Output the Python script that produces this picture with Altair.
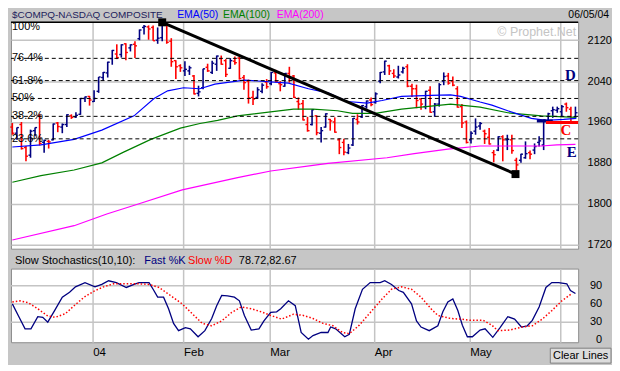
import altair as alt
import pandas as pd

# ---------------- data (trading-day index 0 = 2003-12-05 ... 124 = 2004-06-04)
opens = [1950,1938,1955,1910,1895,1943,1972,1920,1922,1925,1958,1950,1955,1972,1970,1975,2006,2010,
         2000,2020,2047,2056,2084,2093,2092,2113,2105,2112,2123,2145,2146,2145,2120,2125,2150,2118,2080,2070,
         2060,2060,2050,2016,2027,2067,2057,2073,2084,2080,2065,2079,2085,2047,2040,2008,2008,2020,2038,
         2035,2056,2035,2030,2055,2050,2000,1996,1955,1955,1972,1938,1950,1965,1960,1925,1920,1900,1915,1965,1970,1990,2003,
         1998,2040,2058,2070,2055,2048,2058,2068,2030,2025,2005,1990,2022,1980,1995,2040,2050,2040,2025,1990,1960,
         1925,1942,1952,1942,1930,1900,1905,1931,1925,1925,1885,1885,1890,1900,1905,1920,1915,1962,1982,1983,
         1980,1995,1985,1970]
highs = [1958,1949,1960,1913,1945,1949,1976,1925,1925,1957,1960,1957,1975,1975,1979,2007,2010,2011,
         2022,2048,2058,2078,2101,2112,2112,2114,2112,2118,2141,2150,2149,2149,2145,2154,2153,2124,2081,2073,
         2079,2070,2052,2031,2064,2074,2080,2090,2090,2083,2085,2088,2088,2052,2043,2021,2028,2036,2044,
         2058,2062,2040,2056,2068,2052,2008,2003,1970,1985,1973,1950,1977,1966,1969,1928,1927,1917,1968,1975,1993,2002,2008,
         2018,2058,2080,2072,2063,2070,2068,2073,2035,2033,2006,2021,2030,1997,2036,2057,2056,2049,2030,1995,1963,
         1942,1967,1960,1945,1948,1905,1932,1934,1935,1935,1890,1898,1922,1904,1918,1932,1965,1978,1990,1990,
         1993,1998,1990,1990]
lows = [1935,1925,1906,1883,1890,1932,1914,1900,1908,1924,1940,1938,1950,1966,1968,1974,1999,1992,
        1999,2017,2040,2047,2072,2083,2086,2081,2098,2085,2120,2131,2121,2119,2113,2118,2113,2068,2044,2058,
        2050,2052,2014,2010,2024,2058,2054,2060,2072,2048,2064,2072,2043,2023,1996,1993,2005,2016,2025,
        2032,2038,2020,2029,2037,2007,1984,1963,1941,1953,1934,1920,1949,1943,1939,1897,1895,1897,1913,1955,1968,1986,1991,
        1996,2036,2052,2052,2046,2045,2055,2028,2009,1987,1984,1985,1978,1970,1990,2032,2033,2030,1988,1948,1918,
        1918,1935,1945,1917,1916,1881,1903,1883,1905,1898,1865,1880,1888,1887,1897,1912,1905,1958,1968,1978,
        1970,1980,1960,1968]
closes = [1938,1949,1908,1893,1942,1949,1918,1924,1921,1956,1951,1955,1974,1969,1973,2006,2009,2003,
          2006,2048,2057,2077,2100,2086,2111,2096,2111,2109,2140,2147,2142,2119,2124,2153,2116,2078,2068,2066,
          2063,2066,2015,2019,2064,2060,2075,2089,2073,2053,2080,2076,2045,2037,2007,2005,2023,2032,2029,
          2057,2039,2033,2055,2047,2008,1995,1964,1943,1984,1939,1943,1976,1962,1940,1910,1901,1909,1967,1960,1992,2001,1994,
          2015,2057,2079,2060,2050,2052,2065,2030,2025,2002,1995,2020,1979,1995,2033,2049,2036,2032,1989,1958,1920,
          1938,1950,1957,1937,1917,1896,1931,1925,1926,1904,1876,1897,1898,1897,1912,1923,1964,1976,1984,1986,
          1990,1988,1960,1978]

ema50_i = [0, 6.3, 13.6, 19.7, 26.8, 31.2, 34.2, 37.7, 41.3, 44.6, 51.1, 60.8, 65.2, 69.5, 73.8, 78.1, 81.4,
           85.7, 92.2, 96.5, 98.7, 103.0, 105.6, 109.1, 114.3, 117.5, 121.4, 124.2]
ema50_v = [1911, 1915, 1926, 1944, 1972, 2006, 2021, 2027, 2025, 2034, 2042, 2036, 2025, 2017, 2000, 1997, 2002,
           2010, 2012, 2013, 2010, 1999, 1993, 1982, 1967, 1963, 1965, 1967]
ema100_i = [0, 6.3, 13.6, 19.7, 24.5, 30.5, 37.0, 41.3, 45.2, 49.6, 61.9, 66.2, 71.6, 74.9, 79.9, 85.7, 92.2,
            96.5, 103.0, 109.1, 116.5, 124.2]
ema100_v = [1842, 1855, 1866, 1880, 1901, 1926, 1948, 1957, 1963, 1972, 1985, 1985, 1982, 1977, 1977, 1985, 1991,
            1995, 1989, 1978, 1972, 1969]
ema200_i = [0, 13.6, 20.8, 27.9, 37.4, 49.6, 56.9, 66.2, 69.5, 82.5, 88.5, 95.9, 103.0, 116.5, 119.9, 124.0]
ema200_v = [1729, 1757, 1780, 1800, 1827, 1851, 1864, 1875, 1879, 1890, 1898, 1907, 1913, 1913, 1915, 1916]

fib_prices = [2084.5, 2041, 2006, 1971, 1927]
fib_labels = ["76.4%", "61.8%", "50%", "38.2%", "23.6%"]
top_price = 2155
trend_i = [33, 110.8]
trend_v = [2155, 1858]

k_i = [0,1.3,2.8,4.1,5.6,6.7,7.8,9.3,11.0,12.6,13.9,16.0,18.2,19.7,21.2,22.9,25.1,26.8,27.9,30.1,
       31.0,32.0,33.3,34.4,35.5,36.6,38.1,39.2,40.9,42.4,43.9,45.0,46.1,47.4,48.9,50.0,51.1,52.6,54.3,55.4,
       56.9,58.2,59.1,60.8,62.3,63.6,65.2,66.2,68.0,69.5,70.1,71.2,73.2,74.2,75.5,77.1,78.8,81.0,82.0,83.5,
       85.1,86.1,87.9,89.0,90.0,91.8,93.7,94.8,95.9,97.0,98.1,99.1,100.2,101.3,103.0,104.1,105.8,107.4,109.1,110.6,
       112.1,113.4,114.5,116.0,117.5,118.8,120.3,122.1,122.9,124.0]
k_v = [60,41,19,19,39,38,30,49,71,79,88,95,88,92,98,95,87,92,95,95,
       84,71,71,52,28,16,21,19,6,16,36,57,74,73,71,65,41,17,19,32,
       46,47,52,65,57,13,2,8,13,13,22,19,6,10,52,84,95,95,98,92,
       82,79,60,32,22,16,24,47,63,68,49,25,6,6,17,19,5,21,39,35,
       22,24,33,55,87,95,95,93,82,77]
d_i = [0,1.7,3.5,5.6,7.8,9.5,11.7,13.6,15.8,18.0,20.1,22.3,25.1,27.9,30.1,32.3,34.4,37.4,39.6,41.8,
       43.9,46.1,48.3,50.4,52.6,54.8,56.9,59.3,61.9,64.1,66.2,68.4,70.6,72.7,74.2,76.4,79.2,81.4,83.5,85.7,
       87.9,90.0,92.2,93.7,96.5,98.7,100.9,103.7,105.6,106.9,109.5,112.3,114.5,116.7,118.8,121.0,123.2]
d_v = [63,65,62,52,40,38,44,57,71,81,88,93,93,93,92,87,76,60,44,28,
       24,32,46,55,52,47,41,35,43,41,36,28,24,13,11,25,49,68,84,88,
       84,71,52,41,36,35,33,33,25,16,17,22,24,35,49,65,77]

month_ticks = [17.7, 37.7, 56.7, 79.7, 100.7, 120.7]
price_ticks = [1720, 1760, 1800, 1840, 1880, 1920, 1960, 2000, 2040, 2080, 2120]
stoch_grid = [30, 60, 90]
stoch_labels = ["0", "30", "60", "90"]
stoch_label_vals = [0, 30, 60, 90]

# ---------------- styling
FONT = "Liberation Sans"
W = 570
H1 = 228
H2 = 74
XDOM = [-0.3, 124.6]
xs = alt.Scale(domain=XDOM, nice=False, zero=False)
ys = alt.Scale(domain=[1712, 2156], nice=False, zero=False)
GRID = "#c4c4c4"

bars = pd.DataFrame({"i": list(range(len(closes))), "open": opens, "high": highs,
                     "low": lows, "close": closes})
base = alt.Chart(bars).transform_calculate(
    left="datum.i - 0.45", right="datum.i + 0.45",
    dir="datum.close >= datum.open ? 'up' : 'down'")
col = alt.Color("dir:N", scale=alt.Scale(domain=["up", "down"], range=["#000080", "#ff0000"]), legend=None)

xaxis_main = alt.Axis(values=month_ticks, labels=False, ticks=False, domain=False, grid=True,
                      gridColor=GRID, gridWidth=1.5, title=None)
yaxis_main = alt.Axis(orient="right", values=price_ticks, format="d", grid=True, gridColor=GRID, gridWidth=1.5,
                      ticks=False, domain=False, labelPadding=9, labelFont=FONT, labelFontSize=11,
                      labelColor="black", labelOverlap=False, title=None)

hl = base.mark_rule(strokeWidth=1.6).encode(
    x=alt.X("i:Q", scale=xs, axis=xaxis_main), y=alt.Y("low:Q", scale=ys, axis=yaxis_main),
    y2="high:Q", color=col)
op = base.mark_rule(strokeWidth=1.4).encode(x="left:Q", x2="i:Q", y="open:Q", color=col)
cl = base.mark_rule(strokeWidth=1.4).encode(x="i:Q", x2="right:Q", y="close:Q", color=col)

def ema(ix, vals, color):
    return alt.Chart(pd.DataFrame({"i": ix, "v": vals})).mark_line(
        color=color, strokeWidth=1.2, clip=True).encode(x="i:Q", y="v:Q")

e50 = ema(ema50_i, ema50_v, "#0000ff")
e100 = ema(ema100_i, ema100_v, "#008000")
e200 = ema(ema200_i, ema200_v, "#ff00ff")

fib = pd.DataFrame({"p": fib_prices, "lab": fib_labels})
fib_lines = alt.Chart(fib).mark_rule(color="black", strokeWidth=1, strokeDash=[4, 3]).encode(y="p:Q")
fib_text = alt.Chart(fib).mark_text(align="left", baseline="middle", font=FONT, fontSize=11,
                                    color="black").encode(x=alt.value(1), y="p:Q", text="lab:N")
top = pd.DataFrame({"p": [top_price], "lab": ["100%"]})
top_line = alt.Chart(top).mark_rule(color="black", strokeWidth=1.5).encode(y="p:Q")
top_text = alt.Chart(top).mark_text(align="left", baseline="top", dy=-1, font=FONT, fontSize=11,
                                    color="black").encode(x=alt.value(1), y="p:Q", text="lab:N")

trend = pd.DataFrame({"i": trend_i, "v": trend_v})
trend_line = alt.Chart(trend).mark_line(color="black", strokeWidth=3).encode(x="i:Q", y="v:Q")
trend_pts = alt.Chart(trend).mark_square(color="black", size=64, opacity=1).encode(x="i:Q", y="v:Q")

sup = pd.DataFrame({"a": [115.5, 117.5], "b": [119.0, 124.6], "p": [1962, 1959], "c": ["blue", "black"]})
sup_lines = alt.Chart(sup).mark_rule(strokeWidth=3).encode(
    x="a:Q", x2="b:Q", y="p:Q",
    color=alt.Color("c:N", scale=alt.Scale(domain=["blue", "black"], range=["#0000ff", "#000000"]), legend=None))

marks = pd.DataFrame({"i": [122.9, 121.9, 123.2], "p": [2041, 1945, 1902], "t": ["D", "C", "E"],
                      "c": ["D", "C", "E"]})
mark_text = alt.Chart(marks).mark_text(font="Liberation Serif", fontSize=15, fontWeight="bold",
                                       baseline="middle", align="center").encode(
    x="i:Q", y="p:Q", text="t:N",
    color=alt.Color("c:N", scale=alt.Scale(domain=["D", "C", "E"], range=["#000000", "#ff0000", "#000000"]),
                    legend=None))
mark_text_d = mark_text.transform_filter("datum.t == 'D'").encode(yOffset=alt.value(-6))
mark_text_ce = mark_text.transform_filter("datum.t != 'D'")

def label(txt, x, y, color="black", size=11, align="left"):
    return alt.Chart(pd.DataFrame({"t": [txt]})).mark_text(
        align=align, baseline="middle", font=FONT, fontSize=size, color=color).encode(
        x=alt.value(x), y=alt.value(y), text="t:N")

hdr = [label("$COMPQ-NASDAQ COMPOSITE", 1, -7, "#1c1c5c", 10),
       label("EMA(50)", 167, -7, "#0000ff", 10.5),
       label("EMA(100)", 213, -7, "#008000", 10.5),
       label("EMA(200)", 267, -7, "#ff00ff", 10.5),
       label("06/05/04", 601, -7, "black", 10.5, "right"),
       label("\u00a9 Prophet.Net", 568, 10, "#c4c4c4", 12.5, "right")]

main = alt.layer(hl, op, cl, e200, e100, e50, fib_lines, top_line, fib_text, top_text,
                 trend_line, trend_pts, sup_lines, mark_text_d, mark_text_ce, *hdr).properties(
    width=W, height=H1)

# ---------------- stochastics
xaxis_st = alt.Axis(values=month_ticks, ticks=False, domain=False, grid=True, gridColor=GRID, gridWidth=1.5,
                    labelExpr="datum.value < 20 ? '04' : datum.value < 40 ? 'Feb' : datum.value < 60 ? 'Mar' : "
                              "datum.value < 90 ? 'Apr' : datum.value < 110 ? 'May' : ''",
                    labelAlign="left", labelPadding=4, labelFont=FONT, labelFontSize=11.5,
                    labelColor="black", labelOverlap=False, title=None)
ys2 = alt.Scale(domain=[-3, 118], nice=False, zero=False)
yaxis_st = alt.Axis(orient="right", labels=False, grid=False, ticks=False, domain=False, title=None)

kline = alt.Chart(pd.DataFrame({"i": k_i, "v": k_v})).mark_line(color="#000080", strokeWidth=1.3).encode(
    x=alt.X("i:Q", scale=xs, axis=xaxis_st), y=alt.Y("v:Q", scale=ys2, axis=yaxis_st))
dline = alt.Chart(pd.DataFrame({"i": d_i, "v": d_v})).mark_line(
    color="#ff0000", strokeWidth=1.5, strokeDash=[1.5, 2]).encode(x="i:Q", y="v:Q")
st_grid = alt.Chart(pd.DataFrame({"v": stoch_grid})).mark_rule(color=GRID, strokeWidth=1.5).encode(
    y="v:Q")
st_lab = alt.Chart(pd.DataFrame({"v": stoch_label_vals, "lab": stoch_labels})).mark_text(
    align="right", baseline="middle", font=FONT, fontSize=11, color="black").encode(
    x=alt.value(W + 24), y="v:Q", text="lab:N")

st_hdr = [label("Slow Stochastics(10,10):", 4, -8),
          label("Fast %K", 134, -8, "#000080"),
          label("Slow %D", 178, -8, "#ff0000"),
          label("78.72,82.67", 229, -8)]

btn = alt.Chart(pd.DataFrame({"t": ["Clear Lines"]})).mark_rect(
    fill="#dcdcdc", stroke="#808080", strokeWidth=1).encode(
    x=alt.value(542), x2=alt.value(603), y=alt.value(80), y2=alt.value(95))
btn_t = label("Clear Lines", 572.5, 87.5, "black", 11, "center")

stoch = alt.layer(st_grid, kline, dline, st_lab, *st_hdr, btn, btn_t).properties(width=W, height=H2)

chart = alt.vconcat(main, stoch, spacing=3).properties(
    background="#c6c6c6", padding={"left": 0, "top": 0, "right": 0, "bottom": 0}
).configure_view(fill="white", stroke="#8c8c8c", strokeWidth=1)

chart.save("out.html", embed_options={"renderer": "svg", "actions": False})
